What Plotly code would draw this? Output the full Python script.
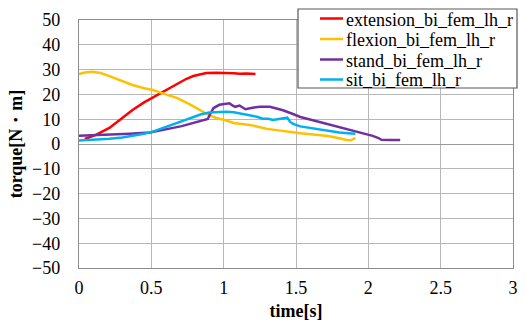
import plotly.graph_objects as go

ext_t = [0.04, 0.12, 0.21, 0.29, 0.37, 0.45, 0.54, 0.61, 0.68, 0.74, 0.79, 0.84, 0.88, 0.95, 1.02, 1.07, 1.11, 1.16, 1.22]
ext_v = [2.0, 3.8, 6.5, 10.0, 13.7, 16.8, 19.7, 22.3, 24.5, 26.2, 27.4, 28.2, 28.6, 28.7, 28.7, 28.5, 28.3, 28.4, 28.2]

flex_t = [0.0, 0.04, 0.09, 0.15, 0.21, 0.29, 0.37, 0.45, 0.51, 0.60, 0.68, 0.76, 0.84, 0.90, 0.95, 1.0, 1.07, 1.18, 1.30, 1.41, 1.53, 1.62, 1.72, 1.80, 1.85, 1.88, 1.91]
flex_v = [28.2, 28.8, 29.1, 28.6, 27.4, 25.6, 23.8, 22.5, 21.8, 20.0, 18.5, 16.2, 13.7, 11.6, 10.5, 9.8, 8.5, 7.7, 6.1, 5.2, 4.3, 3.8, 3.2, 2.3, 1.6, 1.5, 2.5]

stand_t = [0.0, 0.1, 0.21, 0.35, 0.49, 0.57, 0.65, 0.71, 0.77, 0.83, 0.89, 0.91, 0.93, 0.97, 1.01, 1.04, 1.06, 1.08, 1.11, 1.13, 1.15, 1.20, 1.25, 1.32, 1.37, 1.41, 1.47, 1.53, 1.61, 1.69, 1.78, 1.87, 1.95, 2.03, 2.07, 2.09, 2.15, 2.22]
stand_v = [3.3, 3.5, 3.7, 4.1, 4.6, 5.4, 6.5, 7.2, 8.1, 9.1, 10.1, 12.5, 14.5, 15.8, 16.1, 16.4, 15.6, 15.0, 15.5, 14.6, 14.0, 14.6, 15.0, 15.0, 14.3, 13.6, 12.3, 10.9, 9.7, 8.5, 7.1, 5.7, 4.6, 3.3, 2.4, 1.7, 1.6, 1.6]

sit_t = [0.0, 0.1, 0.21, 0.30, 0.37, 0.45, 0.51, 0.60, 0.68, 0.76, 0.84, 0.90, 0.97, 1.02, 1.07, 1.12, 1.18, 1.23, 1.27, 1.31, 1.34, 1.37, 1.39, 1.41, 1.44, 1.46, 1.48, 1.53, 1.61, 1.69, 1.75, 1.80, 1.86, 1.91]
sit_v = [1.4, 1.6, 2.1, 2.6, 3.3, 4.1, 5.0, 6.9, 8.6, 10.2, 11.9, 12.7, 13.0, 13.0, 12.8, 12.3, 11.7, 11.0, 10.2, 10.2, 9.7, 10.0, 9.9, 10.2, 10.6, 8.9, 8.1, 7.1, 6.3, 5.7, 5.1, 4.6, 4.3, 4.1]

names = ["extension_bi_fem_lh_r", "flexion_bi_fem_lh_r", "stand_bi_fem_lh_r", "sit_bi_fem_lh_r"]
colors = ["#ff0000", "#ffc000", "#7030a0", "#00b0f0"]

x_ticks = [0, 0.5, 1, 1.5, 2, 2.5, 3]
x_labels = ["0", "0.5", "1", "1.5", "2", "2.5", "3"]
y_ticks = [50, 40, 30, 20, 10, 0, -10, -20, -30, -40, -50]

serif = "Liberation Serif"

W, H = 526, 325
ML, MR, MT, MB = 79, 13, 20, 57
PW, PH = W - ML - MR, H - MT - MB

def px(xp):
    return (xp - ML) / PW

def py(yp):
    return (H - MB - yp) / PH

fig = go.Figure()
for t, v, n, c in zip([ext_t, flex_t, stand_t, sit_t], [ext_v, flex_v, stand_v, sit_v], names, colors):
    fig.add_trace(go.Scatter(x=t, y=v, mode="lines", name=n, line=dict(color=c, width=2.5)))

# legend box drawn by hand to match the compact row spacing of the original
fig.add_shape(type="rect", xref="paper", yref="paper", x0=px(298), x1=px(517), y0=py(88), y1=py(9),
              line=dict(color="#595959", width=1.2), fillcolor="white", layer="above")
rows = [18.5, 39, 59.5, 79.5]
for n, c, r in zip(names, colors, rows):
    fig.add_shape(type="line", xref="paper", yref="paper", x0=px(320), x1=px(343), y0=py(r), y1=py(r),
                  line=dict(color=c, width=2.5), layer="above")
    fig.add_annotation(xref="paper", yref="paper", x=px(344), y=py(r + 1), xanchor="left", yanchor="middle",
                       text=n, showarrow=False, font=dict(family=serif, size=18, color="black"))

fig.update_layout(
    width=W, height=H,
    margin=dict(l=ML, r=MR, t=MT, b=MB),
    paper_bgcolor="white", plot_bgcolor="white",
    font=dict(family=serif, size=18, color="black"),
    showlegend=False,
)
fig.update_xaxes(range=[0, 3], tickvals=x_ticks, ticktext=x_labels, automargin=False,
                 showgrid=True, gridcolor="#b7b7b7", gridwidth=1.3,
                 zeroline=False, showline=True, linecolor="#8c8c8c", linewidth=1.3, mirror=True,
                 ticks="outside", ticklen=3, tickcolor="rgba(0,0,0,0)",
                 tickfont=dict(family=serif, size=18),
                 title=dict(text="<b>time[s]</b>", font=dict(family=serif, size=18), standoff=7))
fig.update_yaxes(range=[-50, 50], tickvals=y_ticks, automargin=False,
                 showgrid=True, gridcolor="#b7b7b7", gridwidth=1.3,
                 zeroline=True, zerolinecolor="#9a9a9a", zerolinewidth=1.3,
                 showline=True, linecolor="#8c8c8c", linewidth=1.3, mirror=True,
                 ticks="outside", ticklen=14, tickcolor="rgba(0,0,0,0)",
                 tickfont=dict(family=serif, size=18),
                 title=dict(text="<b>torque[N・m]</b>", font=dict(family=serif, size=18), standoff=4))

fig.write_html("out.html")
